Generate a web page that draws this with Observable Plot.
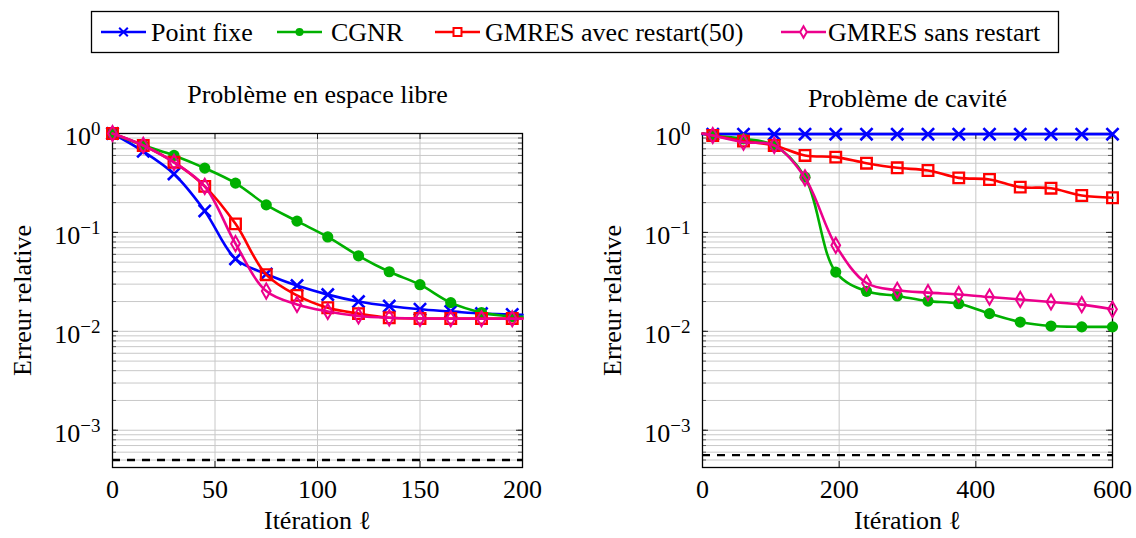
<!DOCTYPE html>
<html><head><meta charset="utf-8">
<script src="https://cdn.jsdelivr.net/npm/d3@7"></script>
<script src="https://cdn.jsdelivr.net/npm/@observablehq/plot@0.6"></script>
<style>
body{margin:0;background:#fff;font-family:"Liberation Serif",serif;}
#wrap{position:relative;width:1136px;height:538px;overflow:hidden;background:#fff;}
#legend{position:absolute;left:0;top:0;}
#left{position:absolute;left:0;top:60px;}
#right{position:absolute;left:568px;top:60px;}
</style></head>
<body><div id="wrap"><div id="legend"></div><div id="left"></div><div id="right"></div></div>
<script>
// ---- data ----
const seriesNames = ["Point fixe", "CGNR", "GMRES avec restart(50)", "GMRES sans restart"];
const seriesColors = ["#0000ff", "#00b000", "#ff0000", "#ec008c"];
const seriesSymbols = ["times", "circle", "square", "diamond"];
const yTickValues = [1, 0.1, 0.01, 0.001];
const yTickExponents = ["0", "−1", "−2", "−3"];

const libreIters = [0, 15, 30, 45, 60, 75, 90, 105, 120, 135, 150, 165, 180, 195, 200];
const libreMarked = [0, 15, 30, 45, 60, 75, 90, 105, 120, 135, 150, 165, 180, 195];
const librePointFixe = [1.0, 0.66, 0.39, 0.165, 0.054, 0.038, 0.029, 0.0235, 0.020, 0.018, 0.0167, 0.0159, 0.0151, 0.0148, 0.0147];
const libreCGNR = [1.0, 0.76, 0.60, 0.447, 0.315, 0.19, 0.13, 0.09, 0.058, 0.040, 0.0296, 0.0195, 0.0155, 0.0141, 0.0140];
const libreRestart = [1.0, 0.757, 0.513, 0.292, 0.122, 0.0374, 0.0231, 0.0173, 0.0151, 0.0137, 0.0135, 0.0135, 0.0135, 0.0135, 0.0135];
const libreSans = [1.0, 0.757, 0.51, 0.292, 0.0769, 0.0255, 0.0187, 0.0159, 0.0143, 0.0137, 0.0135, 0.0134, 0.0134, 0.0134, 0.0134];
const libreSeuil = 5.0e-4;

const caviteIters = [0, 15, 60, 105, 150, 195, 240, 285, 330, 375, 420, 465, 510, 555, 600];
const caviteMarked = [15, 60, 105, 150, 195, 240, 285, 330, 375, 420, 465, 510, 555, 600];
const cavitePointFixe = [0.985, 0.985, 0.985, 0.985, 0.985, 0.985, 0.985, 0.985, 0.985, 0.985, 0.985, 0.985, 0.985, 0.985, 0.985];
const caviteCGNR = [1.0, 0.955, 0.884, 0.757, 0.362, 0.0397, 0.0254, 0.0228, 0.0202, 0.019, 0.0151, 0.0124, 0.0113, 0.0111, 0.0111];
const caviteRestart = [1.0, 0.955, 0.837, 0.757, 0.60, 0.577, 0.501, 0.45, 0.423, 0.356, 0.343, 0.287, 0.28, 0.236, 0.224];
const caviteSans = [1.0, 0.955, 0.817, 0.757, 0.356, 0.074, 0.0308, 0.026, 0.0246, 0.0236, 0.0222, 0.021, 0.0198, 0.0186, 0.0167];
const caviteSeuil = 5.6e-4;

const yDomain = [4.2e-4, 1];
const FONT = "Liberation Serif";
const FS = 26;

function makeRows(iters, values, name) {
  return iters.map((it, i) => ({it, v: values[i], name}));
}

function makePlot({iters, marked, values, xDomain, xTicks, seuil, title, titleDy, marginLeft, marginRight}) {
  const width = 568, height = 478, marginTop = 73, marginBottom = 71;
  const plotW = width - marginLeft - marginRight, plotH = height - marginTop - marginBottom;
  const minorTicks = d3.scaleLog().domain(yDomain).ticks().filter(t => yDomain[0] <= t && t <= 1);
  const marks = [
    Plot.gridY(minorTicks, {stroke: "#c8c8c8", strokeOpacity: 1, strokeWidth: 1}),
    Plot.gridX(xTicks, {stroke: "#c8c8c8", strokeOpacity: 1, strokeWidth: 1}),
    Plot.tickY(minorTicks, {y: d => d, insetRight: plotW - 4, stroke: "#555"}),
    Plot.tickY(minorTicks, {y: d => d, insetLeft: plotW - 4, stroke: "#555"}),
    Plot.tickY(yTickValues, {y: d => d, insetRight: plotW - 6, stroke: "#222"}),
    Plot.tickY(yTickValues, {y: d => d, insetLeft: plotW - 6, stroke: "#222"}),
    Plot.tickX(xTicks, {x: d => d, insetTop: plotH - 6, stroke: "#222"}),
    Plot.tickX(xTicks, {x: d => d, insetBottom: plotH - 6, stroke: "#222"}),
    Plot.ruleY([seuil], {stroke: "#000", strokeWidth: 2.4, strokeDasharray: "8,7"}),
    Plot.frame({stroke: "#000", strokeWidth: 1.3}),
    Plot.axisY(yTickValues, {tickSize: 0, tickPadding: 12, dy: 3, fontSize: FS, label: null,
      tickFormat: d => "10^" + yTickExponents[yTickValues.indexOf(d)]}),
    Plot.axisX(xTicks, {tickSize: 0, tickPadding: 12, fontSize: FS, label: null}),
    Plot.text(["Erreur relative"], {frameAnchor: "left", textAnchor: "middle", lineAnchor: "middle", rotate: -90, dx: -90, fontSize: FS}),
    Plot.text(["Itération ℓ"], {frameAnchor: "bottom", textAnchor: "middle", lineAnchor: "middle", dy: 53, fontSize: FS}),
    Plot.text([title], {frameAnchor: "top", textAnchor: "middle", lineAnchor: "middle", dy: titleDy, fontSize: FS})
  ];
  values.forEach((vals, k) => {
    const rows = makeRows(iters, vals, seriesNames[k]);
    const markedRows = rows.filter(r => marked.includes(r.it));
    marks.push(Plot.line(rows, {x: "it", y: "v", stroke: seriesColors[k], strokeWidth: 2.6, curve: "catmull-rom"}));
    const sym = seriesSymbols[k];
    if (sym === "circle") {
      marks.push(Plot.dot(markedRows, {x: "it", y: "v", r: 5.6, fill: seriesColors[k], stroke: "none"}));
    } else if (sym === "times") {
      marks.push(Plot.dot(markedRows, {x: "it", y: "v", symbol: "times", r: 5.6, stroke: seriesColors[k], strokeWidth: 2.6}));
    } else if (sym === "square") {
      marks.push(Plot.dot(markedRows, {x: "it", y: "v", symbol: "square", r: 6, stroke: seriesColors[k], fill: "none", strokeWidth: 2.3}));
    } else {
      marks.push(Plot.dot(markedRows, {x: "it", y: "v", symbol: "diamond", r: 4.6, stroke: seriesColors[k], fill: "none", strokeWidth: 2}));
    }
  });
  const svg = Plot.plot({
    width, height, marginTop, marginBottom, marginLeft, marginRight,
    style: {fontFamily: FONT, fontSize: FS + "px", background: "transparent", color: "#000"},
    x: {domain: xDomain},
    y: {type: "log", domain: yDomain},
    marks
  });
  d3.select(svg).selectAll('g[aria-label="y-axis tick label"] text').each(function () {
    const [b, e] = this.textContent.split("^");
    const s = d3.select(this);
    s.text(null);
    s.append("tspan").text(b);
    s.append("tspan").attr("dy", "-0.5em").attr("font-size", "19px").text(e);
  });
  return svg;
}

document.getElementById("left").appendChild(makePlot({
  iters: libreIters, marked: libreMarked,
  values: [librePointFixe, libreCGNR, libreRestart, libreSans],
  xDomain: [0, 200], xTicks: [0, 50, 100, 150, 200], seuil: libreSeuil,
  title: "Problème en espace libre", titleDy: -39, marginLeft: 112, marginRight: 46
}));
document.getElementById("right").appendChild(makePlot({
  iters: caviteIters, marked: caviteMarked,
  values: [cavitePointFixe, caviteCGNR, caviteRestart, caviteSans],
  xDomain: [0, 600], xTicks: [0, 200, 400, 600], seuil: caviteSeuil,
  title: "Problème de cavité", titleDy: -35, marginLeft: 134, marginRight: 24
}));

// ---- legend ----
const legendLines = [101, 277, 435, 781];
const legendTexts = [151, 331, 485, 828];
const lg = d3.select("#legend").append("svg").attr("width", 1136).attr("height", 60)
  .style("font-family", FONT).style("font-size", FS + "px");
lg.append("rect").attr("x", 91.5).attr("y", 11.5).attr("width", 967).attr("height", 41)
  .attr("fill", "none").attr("stroke", "#000").attr("stroke-width", 1.3);
const symMap = {times: d3.symbolTimes, circle: d3.symbolCircle, square: d3.symbolSquare, diamond: d3.symbolDiamond};
const symR = {times: 4, circle: 4, square: 4.5, diamond: 3.5};
seriesNames.forEach((name, k) => {
  const x0 = legendLines[k], cy = 32;
  lg.append("line").attr("x1", x0).attr("x2", x0 + 45).attr("y1", cy).attr("y2", cy)
    .attr("stroke", seriesColors[k]).attr("stroke-width", 2.6);
  const sym = seriesSymbols[k];
  const path = d3.symbol(symMap[sym], Math.PI * symR[sym] * symR[sym])();
  const p = lg.append("path").attr("d", path).attr("transform", `translate(${x0 + 22.5},${cy})`);
  if (sym === "circle") p.attr("fill", seriesColors[k]);
  else p.attr("fill", sym === "times" ? "none" : "#fff").attr("stroke", seriesColors[k]).attr("stroke-width", 2);
  lg.append("text").attr("x", legendTexts[k]).attr("y", 41).text(name);
});
</script></body></html>
